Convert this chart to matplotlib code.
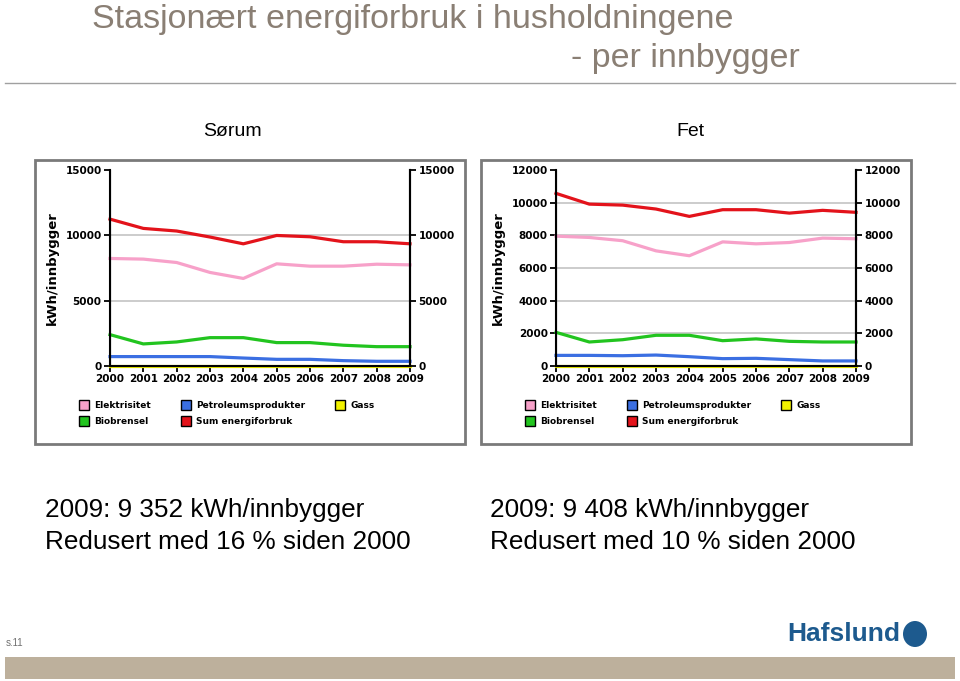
import matplotlib.pyplot as plt
from matplotlib.lines import Line2D
from matplotlib.patches import Rectangle, Ellipse

W, H = 960, 681

years = [2000, 2001, 2002, 2003, 2004, 2005, 2006, 2007, 2008, 2009]

# Sørum, kWh per innbygger
sorum_el = [8230, 8180, 7920, 7160, 6700, 7820, 7640, 7640, 7790, 7740]
sorum_petro = [720, 720, 720, 720, 610, 510, 510, 410, 360, 360]
sorum_gass = [30, 30, 30, 30, 30, 30, 30, 30, 30, 30]
sorum_bio = [2400, 1690, 1840, 2170, 2170, 1790, 1790, 1590, 1480, 1480]
sorum_sum = [11240, 10530, 10330, 9870, 9350, 9990, 9890, 9510, 9510, 9352]

# Fet, kWh per innbygger
fet_el = [7950, 7870, 7670, 7050, 6750, 7600, 7480, 7560, 7830, 7790]
fet_petro = [650, 650, 630, 670, 570, 450, 470, 390, 310, 310]
fet_gass = [30, 30, 30, 30, 30, 30, 30, 30, 30, 30]
fet_bio = [2060, 1470, 1610, 1880, 1880, 1550, 1660, 1510, 1470, 1470]
fet_sum = [10570, 9910, 9850, 9610, 9160, 9570, 9570, 9360, 9530, 9408]

colors = {'Elektrisitet': '#f7a1c9', 'Petroleumsprodukter': '#3b6fe2', 'Gass': '#f2f200',
          'Biobrensel': '#22c41f', 'Sum energiforbruk': '#e3131b'}

sorum_ticks = [0, 5000, 10000, 15000]
fet_ticks = [0, 2000, 4000, 6000, 8000, 10000, 12000]

SANS = ['Liberation Sans', 'DejaVu Sans']


def fx(x):
    return x / W


def fy(y):
    return 1 - y / H


fig = plt.figure(figsize=(W / 100, H / 100), dpi=100)

# header
title_col = '#8a7f74'
fig.text(fx(92), fy(28), 'Stasjonært energiforbruk i husholdningene', family=SANS,
         fontsize=24.5, color=title_col, va='baseline', ha='left')
fig.text(fx(800), fy(67), '- per innbygger', family=SANS,
         fontsize=24.5, color=title_col, va='baseline', ha='right')
fig.add_artist(Line2D([fx(5), fx(955)], [fy(83), fy(83)], color='#a0a0a0', lw=1))

fig.text(fx(232), fy(131), 'Sørum', family=SANS, fontsize=14, ha='center', va='center')
fig.text(fx(690), fy(131), 'Fet', family=SANS, fontsize=14, ha='center', va='center')


def draw_panel(px0, ticks, el, petro, gass, bio, tot):
    # framed chart image, kept behind the axes
    fig.add_artist(Rectangle((fx(px0), fy(444)), fx(430), 284 / H, facecolor='white',
                             edgecolor='#7a7a7a', lw=2, zorder=-5))
    left = px0 + 75
    ax = fig.add_axes([fx(left), fy(366), 300 / W, 196 / H])
    ax.patch.set_alpha(0)
    data = {'Elektrisitet': el, 'Petroleumsprodukter': petro, 'Gass': gass,
            'Biobrensel': bio, 'Sum energiforbruk': tot}
    for name in ['Gass', 'Petroleumsprodukter', 'Biobrensel', 'Elektrisitet', 'Sum energiforbruk']:
        ax.plot(years, data[name], color=colors[name], lw=2.3, solid_joinstyle='round',
                clip_on=False)
    ax.set_xlim(years[0], years[-1])
    ax.set_ylim(ticks[0], ticks[-1])
    ax.set_yticks(ticks)
    ax.set_xticks(years)
    ax.set_xticklabels([str(y) for y in years], fontsize=7.5, fontweight='bold')
    ax.set_yticklabels([str(t) for t in ticks], fontsize=7.5, fontweight='bold')
    ax.tick_params(axis='both', direction='out', length=4, width=1.3, pad=2)
    ax.yaxis.grid(True, color='#c4c4c4', lw=1.2)
    gl = ax.get_ygridlines()
    gl[0].set_visible(False)
    gl[-1].set_visible(False)
    ax.set_axisbelow(True)
    ax.spines['top'].set_visible(False)
    for s in ['left', 'right', 'bottom']:
        ax.spines[s].set_linewidth(1.5)
    ax.set_ylabel('kWh/innbygger', fontsize=9.5, fontweight='bold', labelpad=5)
    axr = ax.twinx()
    axr.set_ylim(ticks[0], ticks[-1])
    axr.set_yticks(ticks)
    axr.set_yticklabels([str(t) for t in ticks], fontsize=7.5, fontweight='bold')
    axr.tick_params(axis='y', direction='out', length=4, width=1.3, pad=2)
    axr.spines['top'].set_visible(False)
    axr.spines['right'].set_linewidth(1.5)

    order = ['Elektrisitet', 'Biobrensel', 'Petroleumsprodukter', 'Sum energiforbruk', 'Gass']
    handles = [Line2D([], [], marker='s', linestyle='none', markersize=7,
                      markerfacecolor=colors[n], markeredgecolor='black', markeredgewidth=1)
               for n in order]
    fig.legend(handles, order, loc='upper left', ncol=3, frameon=False,
               bbox_to_anchor=(fx(px0 + 45), fy(401)),
               prop={'size': 6.5, 'weight': 'bold'}, handlelength=0.8,
               handletextpad=0.8, columnspacing=3.4, labelspacing=0.75,
               borderaxespad=0, borderpad=0)
    return ax


draw_panel(35, sorum_ticks, sorum_el, sorum_petro, sorum_gass, sorum_bio, sorum_sum)
draw_panel(481, fet_ticks, fet_el, fet_petro, fet_gass, fet_bio, fet_sum)

# summary text
fig.text(fx(45), fy(510), '2009: 9 352 kWh/innbygger', family=SANS, fontsize=18.8, va='center')
fig.text(fx(45), fy(542), 'Redusert med 16 % siden 2000', family=SANS, fontsize=18.8, va='center')
fig.text(fx(490), fy(510), '2009: 9 408 kWh/innbygger', family=SANS, fontsize=18.8, va='center')
fig.text(fx(490), fy(542), 'Redusert med 10 % siden 2000', family=SANS, fontsize=18.8, va='center')

# footer
fig.text(fx(6), fy(643), 's.11', family=SANS, fontsize=7, color='#707070', va='center')
fig.text(fx(900), fy(634), 'Hafslund', family=SANS, fontsize=19, fontweight='bold',
         color='#1d5a8e', ha='right', va='center')
fig.add_artist(Ellipse((fx(915), fy(634)), 24 / W, 26 / H, facecolor='#1d5a8e',
                       edgecolor='none'))
fig.add_artist(Rectangle((fx(5), fy(679)), fx(950), 22 / H, facecolor='#bdb09c',
                         edgecolor='none'))

fig.savefig('out.png', dpi=100)
